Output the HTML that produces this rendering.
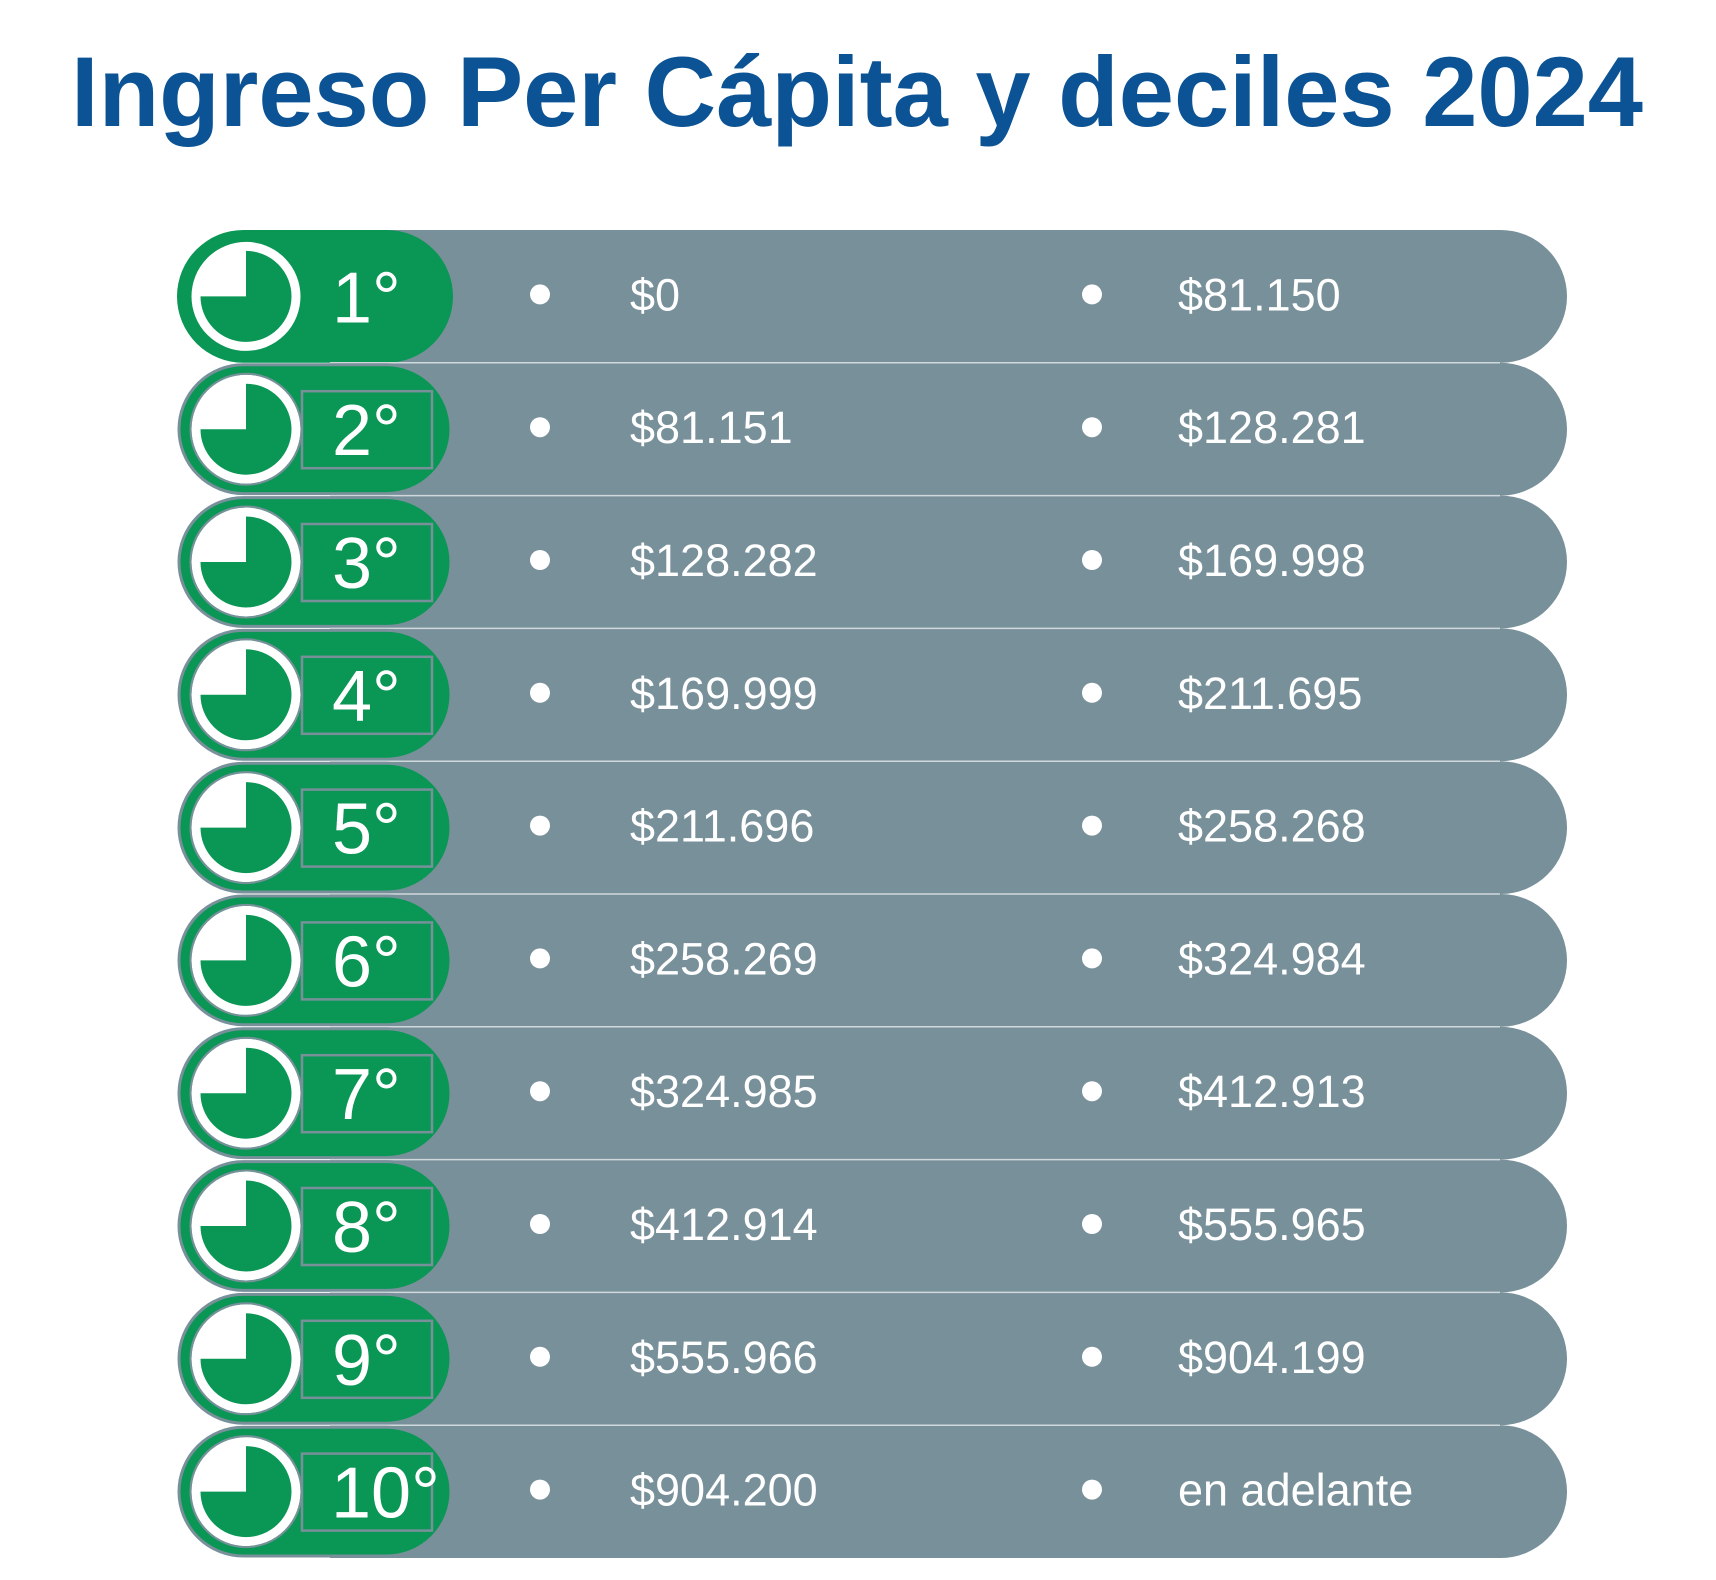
<!DOCTYPE html>
<html><head><meta charset="utf-8"><style>
html,body{margin:0;padding:0;background:#fff;}
svg{display:block;}
</style></head><body>
<svg width="1716" height="1580" viewBox="0 0 1716 1580" xmlns="http://www.w3.org/2000/svg" font-family="Liberation Sans, sans-serif">
<text x="71" y="126" font-size="99" font-weight="bold" fill="#0b5394" textLength="1572" lengthAdjust="spacingAndGlyphs">Ingreso Per Cápita y deciles 2024</text>
<g id="rows"></g>
</svg>
<script>
(function(){
const data=[["$0","$81.150"],["$81.151","$128.281"],["$128.282","$169.998"],["$169.999","$211.695"],["$211.696","$258.268"],["$258.269","$324.984"],["$324.985","$412.913"],["$412.914","$555.965"],["$555.966","$904.199"],["$904.200","en adelante"]];
let s="";const T0=230,h=132.8;
data.forEach((d,i)=>{
 const y=T0+i*h, cy=y+h/2, r=h/2;
 s+=`<rect x="330" y="${y}" width="${1567-330}" height="${h}" rx="${r}" fill="#78909a"/>`;
 s+=`<rect x="330" y="${y}" width="700" height="${h}" fill="#78909a"/>`;
 if(i>0) s+=`<line x1="330" x2="1500" y1="${y}" y2="${y}" stroke="#d0d8dc" stroke-width="1.5"/>`;
 const ins=i>0?2:0;
 s+=`<rect x="${177+ins}" y="${y+ins}" width="${276-2*ins}" height="${h-2*ins}" rx="${r-ins}" fill="#0a9655" ${i>0?'stroke="#78909a" stroke-width="3"':''}/>`;
 const cx=246, R=50;
 s+=`<circle cx="${cx}" cy="${cy}" r="${R}" fill="#0a9655" stroke="#fff" stroke-width="9"/>`;
 if(i>0) s+=`<circle cx="${cx}" cy="${cy}" r="${R+5.5}" fill="none" stroke="#78909a" stroke-width="2"/>`;
 s+=`<path d="M${cx} ${cy} L${cx-R+4} ${cy} A${R-4} ${R-4} 0 0 1 ${cx} ${cy-R+4} Z" fill="#fff"/>`;
 if(i>0) s+=`<rect x="302" y="${cy-38}" width="130" height="77" fill="none" stroke="#78909a" stroke-width="2.5"/>`;
 s+=`<text x="${i==9?331:332}" y="${cy+26}" font-size="72" fill="#fff" font-weight="300">${i+1}°</text>`;
 s+=`<circle cx="540" cy="${cy-2}" r="10" fill="#fff"/><circle cx="1092" cy="${cy-2}" r="10" fill="#fff"/>`;
 s+=`<text x="630" y="${cy+14}" font-size="45" fill="#fff">${d[0]}</text>`;
 s+=`<text x="1178" y="${cy+14}" font-size="45" fill="#fff">${d[1]}</text>`;
});
document.getElementById("rows").innerHTML=s;
})();
</script>
</body></html>
